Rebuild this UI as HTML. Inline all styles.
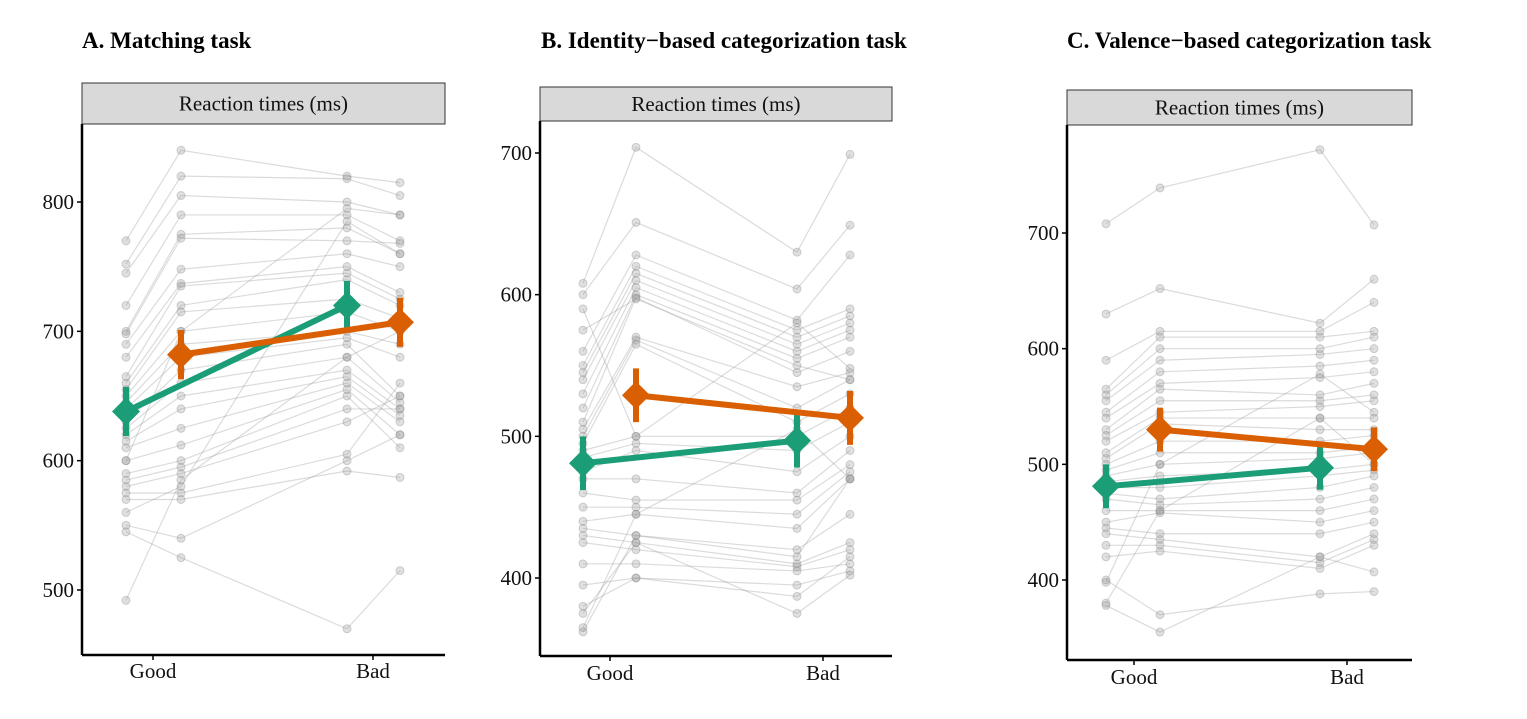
<!DOCTYPE html>
<html><head><meta charset="utf-8">
<style>
html,body{margin:0;padding:0;background:#fff;}
svg text{font-family:"Liberation Serif",serif;}
</style></head>
<body>
<svg id="chart" width="1527" height="714" viewBox="0 0 1527 714" xmlns="http://www.w3.org/2000/svg"></svg>
<script>
// Panel A data: per subject [goodGreen, goodOrange, badGreen, badOrange]
const subjectsA = [[770,840,820,815],[752,820,818,805],[745,805,800,790],[720,790,790,770],[700,775,780,760],[698,772,770,768],[690,748,760,750],[680,737,750,730],[665,735,745,725],[660,720,740,720],[655,715,725,710],[650,700,715,700],[645,690,700,690],[640,680,695,680],[630,670,690,650],[625,660,680,645],[620,650,670,640],[615,640,665,635],[610,625,660,630],[600,612,655,620],[590,600,650,610],[585,595,640,640],[580,590,630,650],[575,575,605,660],[570,570,592,587],[550,540,600,620],[545,525,470,515],[492,585,680,700],[560,580,785,760],[600,700,795,790]];
const meansA = [638,682,720,707];
const ticksA = [500,600,700,800];
// Panel B
const subjectsB = [[608,704,630,699],[600,651,604,649],[560,628,582,628],[550,620,575,590],[545,615,570,585],[540,610,565,580],[530,605,560,575],[520,600,555,570],[510,598,545,560],[505,570,535,545],[500,568,520,540],[495,565,510,530],[490,500,500,520],[485,495,490,510],[475,490,475,500],[470,470,460,490],[460,455,455,480],[450,450,445,475],[440,445,435,470],[435,430,420,445],[430,425,410,425],[425,420,408,420],[410,410,405,410],[395,400,395,405],[380,400,387,415],[375,425,375,402],[365,445,505,470],[362,430,415,470],[590,500,580,548],[575,597,550,540]];
const meansB = [481,529,497,513];
const ticksB = [400,500,600,700];
// Panel C
const subjectsC = [[708,739,772,707],[630,652,622,660],[590,615,615,640],[565,610,610,615],[560,600,600,610],[555,590,595,600],[545,580,585,590],[540,570,575,580],[530,565,560,570],[525,555,555,560],[520,545,550,555],[510,540,540,540],[505,535,530,530],[500,520,520,525],[495,510,510,515],[490,500,505,510],[485,490,495,500],[480,480,490,495],[475,470,480,490],[470,465,470,480],[460,460,460,470],[450,458,450,460],[445,440,440,450],[440,435,420,440],[430,430,415,435],[420,425,410,430],[400,370,388,390],[378,355,420,407],[380,460,540,500],[398,500,578,545]];
const meansC = [481,530,497,513];
const ticksC = [400,500,600,700];
const categories = ['Good','Bad'];

const panels = [
 {id:'a', title:'A. Matching task', subs:subjectsA, means:meansA, ticks:ticksA, x0:82, x1:445, stripTop:83, stripBot:124, axisTop:124, axisBot:655, v0:800, p0:202, v1:500, p1:590, xs:[126,181,347,400], lab:[153,373], labY:678, titleX:82},
 {id:'b', title:'B. Identity\u2212based categorization task', subs:subjectsB, means:meansB, ticks:ticksB, x0:540, x1:892, stripTop:87, stripBot:121, axisTop:121, axisBot:656, v0:700, p0:153, v1:400, p1:578, xs:[583,636,797,850], lab:[610,823], labY:680, titleX:541},
 {id:'c', title:'C. Valence\u2212based categorization task', subs:subjectsC, means:meansC, ticks:ticksC, x0:1067, x1:1412, stripTop:90, stripBot:125, axisTop:125, axisBot:660, v0:700, p0:233, v1:400, p1:580, xs:[1106,1160,1320,1374], lab:[1134,1347], labY:684, titleX:1067}
];
const NS='http://www.w3.org/2000/svg';
const svg=document.getElementById('chart');
function mk(tag,attrs,parent){const e=document.createElementNS(NS,tag);for(const k in attrs)e.setAttribute(k,attrs[k]);(parent||svg).appendChild(e);return e;}
const GREEN='#1B9E77', ORANGE='#D95F02';
panels.forEach(p=>{
  const y=v=>p.p0+(v-p.v0)*(p.p1-p.p0)/(p.v1-p.v0);
  const g=mk('g',{});
  
  
  const t=mk('text',{x:p.titleX,y:48,'font-size':23,'font-weight':'bold',fill:'#000'},g);
  
  
  t.textContent=p.title;
  const s=mk('rect',{x:p.x0,y:p.stripTop,width:p.x1-p.x0,height:p.stripBot-p.stripTop,fill:'#d9d9d9',stroke:'#333','stroke-width':1},g);
  
  
  const st=mk('text',{x:(p.x0+p.x1)/2,y:(p.stripTop+p.stripBot)/2+7,'font-size':21,'text-anchor':'middle',fill:'#111'},g);
  
  
  st.textContent='Reaction times (ms)';
  p.subs.forEach((sv,i)=>{
    const pts=sv.map((v,j)=>p.xs[j]+','+y(v)).join(' ');
    const pl=mk('polyline',{points:pts,fill:'none',stroke:'#999','stroke-opacity':0.35,'stroke-width':1.2},g);
    
    
    sv.forEach((v,j)=>{
      const c=mk('circle',{cx:p.xs[j],cy:y(v),r:4,fill:'#999','fill-opacity':0.3,stroke:'#888','stroke-opacity':0.35},g);
      
      
    });
  });
  [[0,2,GREEN],[1,3,ORANGE]].forEach(([a,b,col])=>{
    const ln=mk('line',{x1:p.xs[a],y1:y(p.means[a]),x2:p.xs[b],y2:y(p.means[b]),stroke:col,'stroke-width':6},g);
    
    
    [a,b].forEach(j=>{
      const cx=p.xs[j],cy=y(p.means[j]);
      const eb=mk('line',{x1:cx,y1:y(p.means[j]+19),x2:cx,y2:y(p.means[j]-19),stroke:col,'stroke-width':6},g);
      
      
      const d=mk('polygon',{points:`${cx},${cy-14} ${cx+14},${cy} ${cx},${cy+14} ${cx-14},${cy}`,fill:col},g);
      
      
    });
  });
  const ya=mk('line',{x1:p.x0,y1:p.axisTop,x2:p.x0,y2:p.axisBot,stroke:'#000','stroke-width':2.5},g);
  
  
  const xa=mk('line',{x1:p.x0,y1:p.axisBot,x2:p.x1,y2:p.axisBot,stroke:'#000','stroke-width':2.5},g);
  
  
  p.ticks.forEach(v=>{
    const tk=mk('line',{x1:p.x0-5,y1:y(v),x2:p.x0,y2:y(v),stroke:'#000','stroke-width':1.5},g);
    
    
    const tl=mk('text',{x:p.x0-8,y:y(v)+7,'font-size':21,'text-anchor':'end',fill:'#111'},g);
    
    
    tl.textContent=v;
  });
  categories.forEach((c,i)=>{
    const tk=mk('line',{x1:p.lab[i],y1:p.axisBot,x2:p.lab[i],y2:p.axisBot+5,stroke:'#000','stroke-width':1.5},g);
    
    
    const tl=mk('text',{x:p.lab[i],y:p.labY,'font-size':21,'text-anchor':'middle',fill:'#111'},g);
    
    
    tl.textContent=c;
  });
});
</script>
</body></html>
